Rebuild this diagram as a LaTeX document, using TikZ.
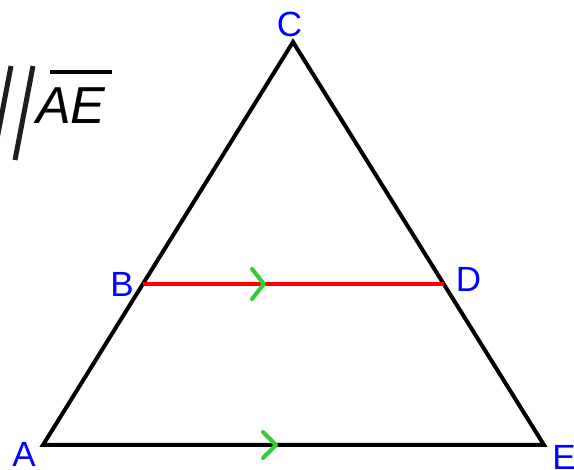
\documentclass[tikz,border=0pt]{standalone}
\usepackage{fontspec}
\setmainfont{Liberation Sans}
\begin{document}
\begin{tikzpicture}[x=1pt,y=-1pt,
  edge/.style={line width=4pt,line join=miter},
  parline/.style={line width=4pt,red},
  chev/.style={line width=4pt,color={rgb,255:red,51;green,204;blue,51},line cap=round,line join=round},
  vlabel/.style={text=blue,font=\fontsize{35}{35}\selectfont,inner sep=0pt,anchor=base},
  slash/.style={line width=5pt,color={rgb,255:red,30;green,30;blue,30}}]
\useasboundingbox (0,0) rectangle (574,470);
\clip (0,0) rectangle (574,470);
\fill[white] (0,0) rectangle (574,470);
% vertices
\coordinate (A) at (43,445);
\coordinate (C) at (293,42);
\coordinate (E) at (544,445);
\coordinate (B) at (143,284);
\coordinate (D) at (444,284);
\coordinate (m1) at (264,284);
\coordinate (m2) at (276,445);
% triangle
\draw[edge] (A) -- (C) -- (E) -- cycle;
% parallel segment
\draw[parline] (B) -- (D);
% arrow marks
\draw[chev] ([shift={(-12,-15)}]m1) -- (m1) -- ([shift={(-12,15)}]m1);
\draw[chev] ([shift={(-13,-13)}]m2) -- (m2) -- ([shift={(-13,13)}]m2);
% labels
\node[vlabel] (lC) at (289.5,37) {C};
\node[vlabel] (lB) at (122,297) {B};
\node[vlabel] (lD) at (468.5,292) {D};
\node[vlabel] (lA) at (24,467) {A};
\node[vlabel] (lE) at (564,470) {E};
% parallel notation
\draw[slash] (11,66) -- (-7,160);
\draw[slash] (33,66) -- (15,160);
\node[inner sep=0pt,anchor=base west,font=\fontsize{52}{52}\selectfont\itshape] (ae) at (36,124) {AE};
\coordinate (ol1) at (50,72);
\coordinate (ol2) at (112,72);
\draw[line width=4pt] (ol1) -- (ol2);
\end{tikzpicture}
\end{document}
